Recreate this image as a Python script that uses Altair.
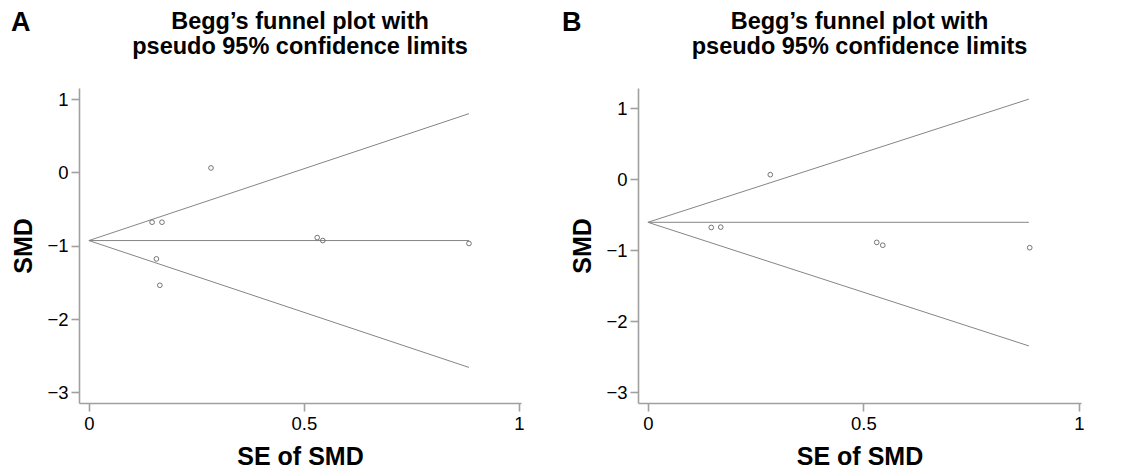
import altair as alt
import pandas as pd

# ---- Panel A: study estimates (SE of SMD, SMD) ----
se_A = [0.147, 0.170, 0.284, 0.157, 0.165, 0.531, 0.544, 0.884]
smd_A = [-0.68, -0.68, 0.06, -1.18, -1.54, -0.89, -0.93, -0.97]

# ---- Panel B: study estimates ----
se_B = [0.147, 0.169, 0.284, 0.531, 0.545, 0.886]
smd_B = [-0.68, -0.675, 0.065, -0.89, -0.93, -0.965]

# ---- Funnel (pseudo 95% CI) lines: start / end points ----
funnel_se = [0.0, 0.884]
center_A = [-0.93, -0.93]
upper_A = [-0.93, 0.80]
lower_A = [-0.93, -2.66]
center_B = [-0.607, -0.607]
upper_B = [-0.607, 1.13]
lower_B = [-0.607, -2.35]

x_ticks = [0, 0.5, 1]
y_ticks = [-3, -2, -1, 0, 1]

title_lines = ["Begg\u2019s funnel plot with", "pseudo 95% confidence limits"]

FONT = "Liberation Sans"


def lines_df(center, upper, lower):
    rows = []
    for name, vals in (("center", center), ("upper", upper), ("lower", lower)):
        for s, v in zip(funnel_se, vals):
            rows.append({"line": name, "se": s, "smd": v})
    return pd.DataFrame(rows)


def panel(letter, letter_dx, se, smd, lines, ydom, width):
    pts = pd.DataFrame({"se": se, "smd": smd})
    x = alt.X(
        "se:Q",
        scale=alt.Scale(domain=[-0.023, 1.005], nice=False, zero=False),
        axis=alt.Axis(values=x_ticks, format="~g", title="SE of SMD", titlePadding=12),
    )
    y = alt.Y(
        "smd:Q",
        scale=alt.Scale(domain=ydom, nice=False, zero=False),
        axis=alt.Axis(values=y_ticks, format="~g", title="SMD", titlePadding=10),
    )
    ln = alt.Chart(lines).mark_line(color="#858585", strokeWidth=1).encode(
        x=x, y=y, detail="line:N"
    )
    pt = alt.Chart(pts).mark_point(
        shape="circle", filled=False, size=22, color="#666666", strokeWidth=0.9, opacity=1
    ).encode(x="se:Q", y="smd:Q")
    layer = alt.layer(ln, pt).properties(
        width=width,
        height=315,
        title=alt.TitleParams(
            title_lines,
            anchor="middle",
            fontSize=23.5,
            fontWeight="bold",
            font=FONT,
            color="black",
            lineHeight=25,
            offset=30,
        ),
    )
    return alt.vconcat(
        layer,
        title=alt.TitleParams(
            letter,
            anchor="start",
            fontSize=27,
            fontWeight="bold",
            font=FONT,
            color="black",
            offset=-27,
            dx=letter_dx,
        ),
    )


pA = panel("A", -1, se_A, smd_A, lines_df(center_A, upper_A, lower_A), [-3.145, 1.15], 442)
pB = panel("B", -9, se_B, smd_B, lines_df(center_B, upper_B, lower_B), [-3.155, 1.287], 443)

chart = (
    alt.hconcat(pA, pB, spacing=37)
    .properties(padding={"left": 2, "top": 0, "right": 0, "bottom": 0}, background="white")
    .configure_view(stroke=None)
    .configure_axis(
        grid=False,
        domainColor="#a0a0a0",
        domainWidth=1.6,
        tickColor="#a0a0a0",
        tickWidth=1.6,
        tickSize=8,
        labelFont=FONT,
        labelFontSize=18.5,
        labelColor="black",
        labelPadding=3,
        titleFont=FONT,
        titleFontSize=25,
        titleFontWeight="bold",
        titleColor="black",
    )
    .configure_title(font=FONT, color="black")
)

chart.save("out.html", embed_options={"renderer": "svg", "actions": False})
